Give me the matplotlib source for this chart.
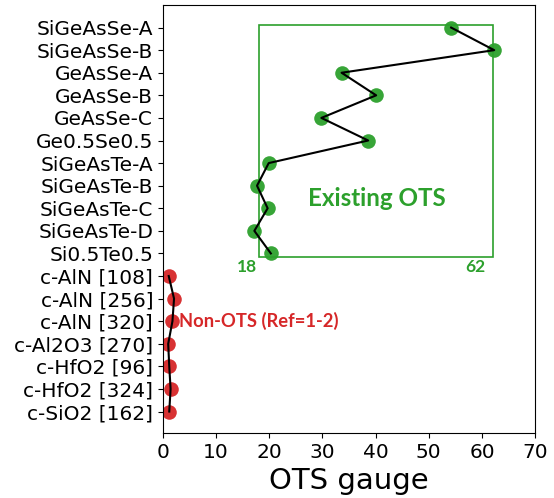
import matplotlib
matplotlib.use("Agg")
import matplotlib.pyplot as plt
from matplotlib.patches import Rectangle

ots_names = ["SiGeAsSe-A", "SiGeAsSe-B", "GeAsSe-A", "GeAsSe-B", "GeAsSe-C",
             "Ge0.5Se0.5", "SiGeAsTe-A", "SiGeAsTe-B", "SiGeAsTe-C", "SiGeAsTe-D",
             "Si0.5Te0.5"]
ots_values = [54.2, 62.3, 33.6, 40.1, 29.8, 38.6, 19.9, 17.7, 19.7, 17.2, 20.3]

non_names = ["c-AlN [108]", "c-AlN [256]", "c-AlN [320]", "c-Al2O3 [270]",
             "c-HfO2 [96]", "c-HfO2 [324]", "c-SiO2 [162]"]
non_values = [1.1, 2.1, 1.8, 1.0, 1.2, 1.45, 1.2]

box_lo, box_hi = 18, 62

fig = plt.figure(figsize=(5.54, 4.98), dpi=100)
ax = fig.add_axes([0.294, 0.1305, 0.672, 0.8595])

names = ots_names + non_names
pos = list(range(len(names)))
ots_pos = pos[:len(ots_names)]
non_pos = pos[len(ots_names):]

ax.scatter(ots_values, ots_pos, s=110, color="#2ca02c", alpha=0.95, zorder=2, linewidths=0)
ax.scatter(non_values, non_pos, s=110, color="#d62728", alpha=0.95, zorder=2, linewidths=0)
ax.plot(ots_values, ots_pos, color="black", lw=1.5, zorder=3)
ax.plot(non_values, non_pos, color="black", lw=1.5, zorder=3)

ax.add_patch(Rectangle((box_lo, -0.13), box_hi - box_lo, 10.27, fill=False,
                       edgecolor="#2ca02c", lw=1.2, zorder=1))

ax.text(box_lo - 2.2, 10.6, str(box_lo), color="#2ca02c", fontsize=12.5,
        fontweight="bold", family="Lato", ha="center", va="center")
ax.text(box_hi - 3.2, 10.6, str(box_hi), color="#2ca02c", fontsize=12.5,
        fontweight="bold", family="Lato", ha="center", va="center")
ax.text(40.2, 7.55, "Existing OTS", color="#2ca02c", fontsize=17.4,
        fontweight="bold", family="Lato", ha="center", va="center")
ax.text(3.1, 13, "Non-OTS (Ref=1-2)", color="#d62728", fontsize=13.2,
        fontweight="bold", family="Lato", ha="left", va="center")

ax.set_yticks(pos)
ax.set_yticklabels(names, fontsize=14.5)
ax.set_ylim(17.95, -1.0)
ax.set_xlim(0, 70)
ax.set_xticks(range(0, 71, 10))
ax.tick_params(axis="x", labelsize=14.5)
ax.set_xlabel("OTS gauge", fontsize=21)

fig.savefig("out.png", dpi=100)
